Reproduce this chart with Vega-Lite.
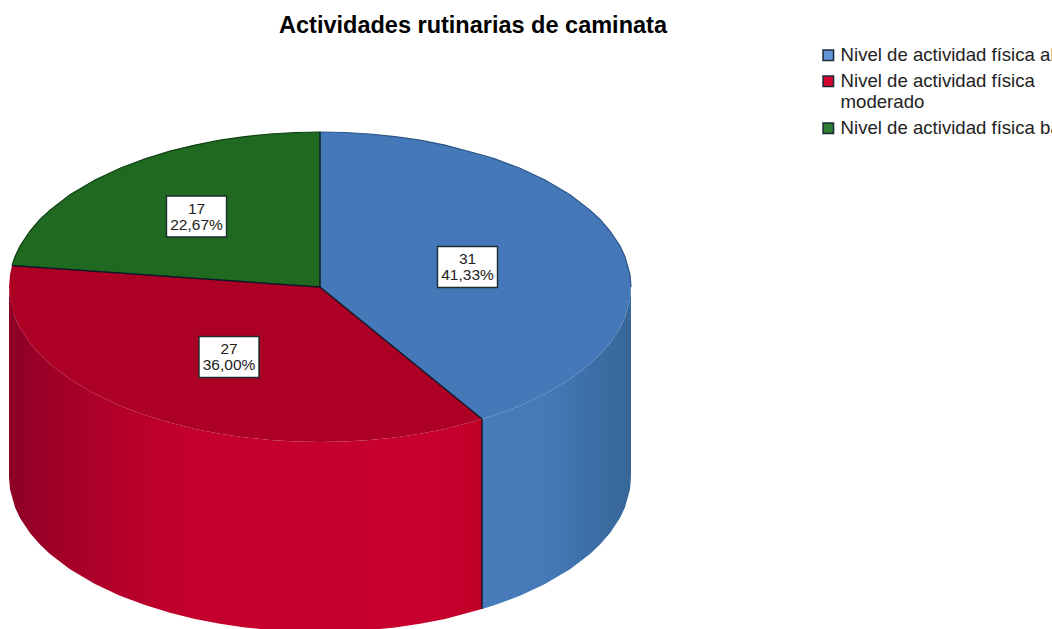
{
"$schema":"https://vega.github.io/schema/vega-lite/v6.json",
"width":1052,"height":629,"padding":0,"autosize":{"type":"none"},
"background":"white",
"config":{"view":{"stroke":null}},
"title":{"text":"Actividades rutinarias de caminata","font":"Liberation Sans","fontWeight":"bold","fontSize":23.5,"color":"#000000","anchor":"middle","frame":"group","dx":-53,"dy":41},
"datasets":{
"top":[
{"slice":"Nivel de actividad física alto","x":0,"y":155,"y2":0},{"slice":"Nivel de actividad física alto","x":25,"y":154.5,"y2":-20.4},{"slice":"Nivel de actividad física alto","x":50,"y":153,"y2":-40.7},{"slice":"Nivel de actividad física alto","x":75,"y":150.4,"y2":-61.1},{"slice":"Nivel de actividad física alto","x":100,"y":146.8,"y2":-81.5},{"slice":"Nivel de actividad física alto","x":125,"y":141.9,"y2":-101.9},{"slice":"Nivel de actividad física alto","x":162,"y":132,"y2":-132},{"slice":"Nivel de actividad física alto","x":175,"y":128.1,"y2":-128.1},{"slice":"Nivel de actividad física alto","x":200,"y":118.7,"y2":-118.7},{"slice":"Nivel de actividad física alto","x":225,"y":107,"y2":-107},{"slice":"Nivel de actividad física alto","x":250,"y":92.2,"y2":-92.2},{"slice":"Nivel de actividad física alto","x":270,"y":76.9,"y2":-76.9},{"slice":"Nivel de actividad física alto","x":280,"y":67.5,"y2":-67.5},{"slice":"Nivel de actividad física alto","x":290,"y":56,"y2":-56},{"slice":"Nivel de actividad física alto","x":300,"y":40.9,"y2":-40.9},{"slice":"Nivel de actividad física alto","x":305,"y":30.3,"y2":-30.3},{"slice":"Nivel de actividad física alto","x":310,"y":12.4,"y2":-12.4},{"slice":"Nivel de actividad física alto","x":311,"y":0,"y2":0},
{"slice":"Nivel de actividad física moderado","x":-311,"y":0,"y2":0},{"slice":"Nivel de actividad física moderado","x":-310,"y":12.4,"y2":-12.4},{"slice":"Nivel de actividad física moderado","x":-308,"y":21.5,"y2":-21.5},{"slice":"Nivel de actividad física moderado","x":-305,"y":21.3,"y2":-30.3},{"slice":"Nivel de actividad física moderado","x":-300,"y":20.9,"y2":-40.9},{"slice":"Nivel de actividad física moderado","x":-290,"y":20.2,"y2":-56},{"slice":"Nivel de actividad física moderado","x":-280,"y":19.5,"y2":-67.5},{"slice":"Nivel de actividad física moderado","x":-270,"y":18.8,"y2":-76.9},{"slice":"Nivel de actividad física moderado","x":-250,"y":17.5,"y2":-92.2},{"slice":"Nivel de actividad física moderado","x":-225,"y":15.7,"y2":-107},{"slice":"Nivel de actividad física moderado","x":-200,"y":14,"y2":-118.7},{"slice":"Nivel de actividad física moderado","x":-175,"y":12.2,"y2":-128.1},{"slice":"Nivel de actividad física moderado","x":-150,"y":10.5,"y2":-135.8},{"slice":"Nivel de actividad física moderado","x":-125,"y":8.7,"y2":-141.9},{"slice":"Nivel de actividad física moderado","x":-100,"y":7,"y2":-146.8},{"slice":"Nivel de actividad física moderado","x":-75,"y":5.2,"y2":-150.4},{"slice":"Nivel de actividad física moderado","x":-50,"y":3.5,"y2":-153},{"slice":"Nivel de actividad física moderado","x":-25,"y":1.7,"y2":-154.5},{"slice":"Nivel de actividad física moderado","x":0,"y":0,"y2":-155},{"slice":"Nivel de actividad física moderado","x":25,"y":-20.4,"y2":-154.5},{"slice":"Nivel de actividad física moderado","x":50,"y":-40.7,"y2":-153},{"slice":"Nivel de actividad física moderado","x":75,"y":-61.1,"y2":-150.4},{"slice":"Nivel de actividad física moderado","x":100,"y":-81.5,"y2":-146.8},{"slice":"Nivel de actividad física moderado","x":125,"y":-101.9,"y2":-141.9},{"slice":"Nivel de actividad física moderado","x":162,"y":-132,"y2":-132},
{"slice":"Nivel de actividad física bajo","x":-308,"y":21.5,"y2":21.5},{"slice":"Nivel de actividad física bajo","x":-305,"y":30.3,"y2":21.3},{"slice":"Nivel de actividad física bajo","x":-300,"y":40.9,"y2":20.9},{"slice":"Nivel de actividad física bajo","x":-290,"y":56,"y2":20.2},{"slice":"Nivel de actividad física bajo","x":-280,"y":67.5,"y2":19.5},{"slice":"Nivel de actividad física bajo","x":-270,"y":76.9,"y2":18.8},{"slice":"Nivel de actividad física bajo","x":-250,"y":92.2,"y2":17.5},{"slice":"Nivel de actividad física bajo","x":-225,"y":107,"y2":15.7},{"slice":"Nivel de actividad física bajo","x":-200,"y":118.7,"y2":14},{"slice":"Nivel de actividad física bajo","x":-175,"y":128.1,"y2":12.2},{"slice":"Nivel de actividad física bajo","x":-150,"y":135.8,"y2":10.5},{"slice":"Nivel de actividad física bajo","x":-125,"y":141.9,"y2":8.7},{"slice":"Nivel de actividad física bajo","x":-100,"y":146.8,"y2":7},{"slice":"Nivel de actividad física bajo","x":-75,"y":150.4,"y2":5.2},{"slice":"Nivel de actividad física bajo","x":-50,"y":153,"y2":3.5},{"slice":"Nivel de actividad física bajo","x":-25,"y":154.5,"y2":1.7},{"slice":"Nivel de actividad física bajo","x":0,"y":155,"y2":0}
],
"wall":[
{"slice":"moderado","x":-311,"y":0,"y2":-190},{"slice":"moderado","x":-310,"y":-12.4,"y2":-202.4},{"slice":"moderado","x":-305,"y":-30.3,"y2":-220.3},{"slice":"moderado","x":-300,"y":-40.9,"y2":-230.9},{"slice":"moderado","x":-290,"y":-56,"y2":-246},{"slice":"moderado","x":-280,"y":-67.5,"y2":-257.5},{"slice":"moderado","x":-270,"y":-76.9,"y2":-266.9},{"slice":"moderado","x":-250,"y":-92.2,"y2":-282.2},{"slice":"moderado","x":-225,"y":-107,"y2":-297},{"slice":"moderado","x":-200,"y":-118.7,"y2":-308.7},{"slice":"moderado","x":-175,"y":-128.1,"y2":-318.1},{"slice":"moderado","x":-150,"y":-135.8,"y2":-325.8},{"slice":"moderado","x":-125,"y":-141.9,"y2":-331.9},{"slice":"moderado","x":-100,"y":-146.8,"y2":-336.8},{"slice":"moderado","x":-75,"y":-150.4,"y2":-340.4},{"slice":"moderado","x":-50,"y":-153,"y2":-343},{"slice":"moderado","x":-25,"y":-154.5,"y2":-344.5},{"slice":"moderado","x":0,"y":-155,"y2":-345},{"slice":"moderado","x":25,"y":-154.5,"y2":-344.5},{"slice":"moderado","x":50,"y":-153,"y2":-343},{"slice":"moderado","x":75,"y":-150.4,"y2":-340.4},{"slice":"moderado","x":100,"y":-146.8,"y2":-336.8},{"slice":"moderado","x":125,"y":-141.9,"y2":-331.9},{"slice":"moderado","x":162,"y":-132,"y2":-322},
{"slice":"alto","x":162,"y":-132,"y2":-322},{"slice":"alto","x":175,"y":-128.1,"y2":-318.1},{"slice":"alto","x":200,"y":-118.7,"y2":-308.7},{"slice":"alto","x":225,"y":-107,"y2":-297},{"slice":"alto","x":250,"y":-92.2,"y2":-282.2},{"slice":"alto","x":270,"y":-76.9,"y2":-266.9},{"slice":"alto","x":280,"y":-67.5,"y2":-257.5},{"slice":"alto","x":290,"y":-56,"y2":-246},{"slice":"alto","x":300,"y":-40.9,"y2":-230.9},{"slice":"alto","x":305,"y":-30.3,"y2":-220.3},{"slice":"alto","x":310,"y":-12.4,"y2":-202.4},{"slice":"alto","x":311,"y":0,"y2":-190}
],
"spokes":[
{"spoke":"a","x":0,"y":155},{"spoke":"a","x":0,"y":0},
{"spoke":"b","x":0,"y":0},{"spoke":"b","x":162,"y":-132},
{"spoke":"c","x":-308,"y":21.5},{"spoke":"c","x":0,"y":0},
{"spoke":"d","x":162,"y":-132},{"spoke":"d","x":162,"y":-322}
],
"labels":[
{"slice":"Nivel de actividad física alto","x":147.5,"y":20,"label":"31\n41,33%"},
{"slice":"Nivel de actividad física moderado","x":-91,"y":-70,"label":"27\n36,00%"},
{"slice":"Nivel de actividad física bajo","x":-123.5,"y":70.5,"label":"17\n22,67%"}
]
},
"encoding":{
"x":{"field":"x","type":"quantitative","axis":null,"scale":{"domain":[-320,732],"nice":false,"zero":false}},
"y":{"field":"y","type":"quantitative","axis":null,"scale":{"domain":[-342,287],"nice":false,"zero":false}}
},
"layer":[
{"data":{"name":"wall"},"transform":[{"filter":"datum.slice==='moderado'"}],
 "mark":{"type":"area","orient":"vertical","color":{"gradient":"linear","x1":0,"x2":1,"y1":0,"y2":0,"stops":[{"offset":0,"color":"#8c0026"},{"offset":0.1,"color":"#a00028"},{"offset":0.25,"color":"#b6002a"},{"offset":0.4,"color":"#c4002c"},{"offset":0.9,"color":"#c8002e"},{"offset":1,"color":"#bf0028"}]}},
 "encoding":{"y2":{"field":"y2"}}},
{"data":{"name":"wall"},"transform":[{"filter":"datum.slice==='alto'"}],
 "mark":{"type":"area","orient":"vertical","color":{"gradient":"linear","x1":0,"x2":1,"y1":0,"y2":0,"stops":[{"offset":0,"color":"#477bbb"},{"offset":0.45,"color":"#4579b6"},{"offset":0.65,"color":"#3e72ac"},{"offset":1,"color":"#376698"}]}},
 "encoding":{"y2":{"field":"y2"}}},
{"data":{"name":"top"},
 "mark":{"type":"area","orient":"vertical"},
 "encoding":{"y2":{"field":"y2"},
  "fill":{"field":"slice","type":"nominal","legend":null,"scale":{"domain":["Nivel de actividad física alto","Nivel de actividad física moderado","Nivel de actividad física bajo"],"range":["#4478b8","#ac0024","#1f6a20"]}}}},
{"data":{"name":"top"},"transform":[{"filter":"datum.slice==='Nivel de actividad física alto'"}],
 "mark":{"type":"line","color":"#2a5585","strokeWidth":1.2},"encoding":{}},
{"data":{"name":"top"},"transform":[{"filter":"datum.slice==='Nivel de actividad física bajo'"}],
 "mark":{"type":"line","color":"#0d3f12","strokeWidth":1.2},"encoding":{}},
{"data":{"name":"spokes"},
 "mark":{"type":"line","color":"#101828","strokeWidth":1.5},
 "encoding":{"detail":{"field":"spoke"}}},
{"data":{"name":"labels"},
 "mark":{"type":"point","shape":"square","filled":true,"size":9,"opacity":1},
 "encoding":{"fill":{"field":"slice","type":"nominal",
   "scale":{"domain":["Nivel de actividad física alto","Nivel de actividad física moderado","Nivel de actividad física bajo"],"range":["#6694d8","#d4002f","#2f7f32"]},
   "legend":{"orient":"none","legendX":819,"legendY":46,"title":null,"symbolType":"square","symbolSize":110,"symbolStrokeColor":"#1a2a3a","symbolStrokeWidth":1.5,"symbolOpacity":1,"labelFont":"Liberation Sans","labelFontSize":18.6,"labelColor":"#222222","labelLimit":400,"labelOffset":3,"rowPadding":7,"labelExpr":"datum.label==='Nivel de actividad física moderado'?['Nivel de actividad física','moderado']:datum.label"}}}},
{"data":{"name":"labels"},
 "mark":{"type":"rect","width":60,"height":41,"fill":"white","stroke":"#1c2c30","strokeWidth":1.4},"encoding":{}},
{"data":{"name":"labels"},
 "mark":{"type":"text","font":"Liberation Sans","fontSize":15.5,"lineHeight":16,"lineBreak":"\n","color":"#222222","baseline":"middle","dy":-8},
 "encoding":{"text":{"field":"label"}}}
],
"resolve":{"scale":{"fill":"independent"}}
}
